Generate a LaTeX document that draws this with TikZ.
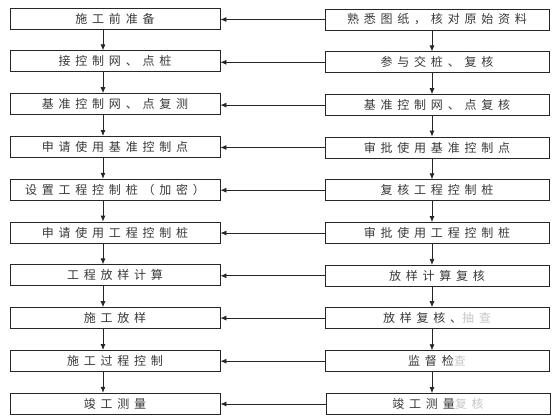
\documentclass[tikz,border=0pt]{standalone}
\usepackage{fontspec}
\newfontfamily\cjk[LetterSpace=40]{Noto Sans CJK SC}
\usetikzlibrary{arrows.meta}
\begin{document}
\begin{tikzpicture}[x=1pt,y=-1pt,
  box/.style={draw=black!85, line width=0.8pt, minimum height=21pt, inner sep=0pt,
    font=\cjk\fontsize{12}{12}\selectfont, text=black!78, fill=white},
  lbox/.style={box, minimum width=210pt},
  rbox/.style={box, minimum width=224pt},
  arr/.style={draw=black!85, line width=0.8pt, -{Latex[length=6pt,width=5pt]}},
  faint/.style={}]
\useasboundingbox (0,0) rectangle (560,420);
\fill[white] (0,0) rectangle (560,420);
\coordinate (lx) at (103,0);
\coordinate (rx) at (432,0);
% left column
\node[lbox] (L1)  at (115,18.5)  {施工前准备};
\node[lbox] (L2)  at (115,61.3)  {接控制网、点桩};
\node[lbox] (L3)  at (115,104.1) {基准控制网、点复测};
\node[lbox] (L4)  at (115,146.9) {申请使用基准控制点};
\node[lbox] (L5)  at (115,189.7) {设置工程控制桩（加密）};
\node[lbox] (L6)  at (115,232.5) {申请使用工程控制桩};
\node[lbox] (L7)  at (115,275.3) {工程放样计算};
\node[lbox] (L8)  at (115,318.1) {施工放样};
\node[lbox] (L9)  at (115,360.9) {施工过程控制};
\node[lbox] (L10) at (115,403.7) {竣工测量};
% right column
\node[rbox] (R1)  at (437,19.5)  {熟悉图纸，核对原始资料};
\node[rbox] (R2)  at (437,62.3)  {参与交桩、复核};
\node[rbox] (R3)  at (437,105.1) {基准控制网、点复核};
\node[rbox] (R4)  at (437,147.5) {审批使用基准控制点};
\node[rbox] (R5)  at (437,190.2) {复核工程控制桩};
\node[rbox] (R6)  at (437,233)   {审批使用工程控制桩};
\node[rbox] (R7)  at (437,275.8) {放样计算复核};
\node[rbox] (R8)  at (437,318.1) {放样复核、\textcolor{black!22}{抽查}};
\node[rbox] (R9)  at (437,361.2) {监督检\textcolor{black!22}{查}};
\node[rbox] (R10) at (438,404)   {竣工测量\textcolor{black!22}{复核}};
% vertical arrows
\foreach \a/\b in {1/2,2/3,3/4,4/5,5/6,6/7,7/8,8/9,9/10}{
  \draw[arr] (L\a.south -| lx) -- (L\b.north -| lx);
  \draw[arr] (R\a.south -| rx) -- (R\b.north -| rx);
}
% horizontal arrows
\foreach \i in {1,...,10}{
  \draw[arr] (R\i.west) -- (L\i.east |- R\i.west);
}
\end{tikzpicture}
\end{document}
